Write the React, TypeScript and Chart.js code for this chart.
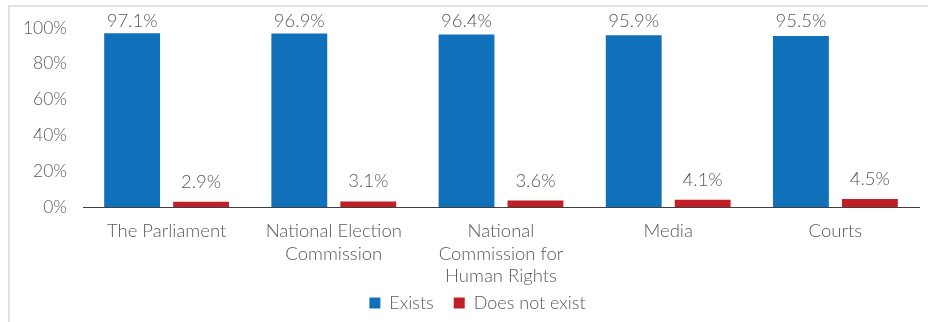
import React, { useEffect, useRef } from "react";
import { Chart, registerables } from "chart.js";

Chart.register(...registerables);

const categories: (string | string[])[] = [
  "The Parliament",
  ["National Election", "Commission"],
  ["National", "Commission for", "Human Rights"],
  "Media",
  "Courts",
];
const existsValues = [97.1, 96.9, 96.4, 95.9, 95.5];
const notExistValues = [2.9, 3.1, 3.6, 4.1, 4.5];
const seriesNames = ["Exists", "Does not exist"];
const yTicks = [0, 20, 40, 60, 80, 100];

const TEXT = "#595959";
const FONT = "Lato";

const labelPlugin = {
  id: "valueLabels",
  afterDatasetsDraw(chart: any) {
    const ctx = chart.ctx;
    ctx.save();
    ctx.font = `300 18.5px ${FONT}`;
    ctx.fillStyle = TEXT;
    ctx.textAlign = "center";
    ctx.textBaseline = "middle";
    chart.data.datasets.forEach((ds: any, i: number) => {
      const meta = chart.getDatasetMeta(i);
      meta.data.forEach((bar: any, j: number) => {
        const v = ds.data[j];
        const y = Math.max(bar.y - 20, 21);
        ctx.fillText(v.toFixed(1) + "%", bar.x, y);
      });
    });
    ctx.restore();
  },
};

const legendAdjust = {
  id: "legendAdjust",
  beforeLayout(chart: any) {
    const lg = chart.legend;
    if (lg && !lg.__patched) {
      const orig = lg.fit;
      lg.fit = function (this: any) {
        orig.call(this);
        this.height = 35;
      };
      lg.__patched = true;
    }
  },
  afterLayout(chart: any) {
    const lg = chart.legend;
    if (lg) {
      lg.left += 18;
      lg.right += 18;
      lg.top -= 13;
      lg.bottom = chart.height;
    }
  },
};

export default function App() {
  const ref = useRef<HTMLCanvasElement>(null);
  useEffect(() => {
    document.body.style.margin = "0";
    document.body.style.overflow = "hidden";
    const chart = new Chart(ref.current!, {
      type: "bar",
      data: {
        labels: categories,
        datasets: [
          {
            label: seriesNames[0],
            data: existsValues,
            backgroundColor: "#1170BA",
            categoryPercentage: 0.825,
            barPercentage: 0.81,
          },
          {
            label: seriesNames[1],
            data: notExistValues,
            backgroundColor: "#C01F27",
            categoryPercentage: 0.825,
            barPercentage: 0.81,
          },
        ],
      },
      options: {
        animation: false,
        responsive: false,
        maintainAspectRatio: false,
        layout: { padding: { top: 28, left: 0, right: 9, bottom: 0 } },
        plugins: {
          tooltip: { enabled: false },
          legend: {
            position: "bottom",
            labels: {
              color: TEXT,
              font: { family: FONT, size: 18, weight: "300" as any },
              boxWidth: 11,
              boxHeight: 11,
              padding: 20,
            },
          },
        },
        scales: {
          x: {
            grid: { display: false, drawTicks: false },
            border: { display: true, color: "#404040", width: 1 },
            ticks: {
              color: TEXT,
              font: { family: FONT, size: 18.5, weight: "300" as any, lineHeight: 1.22 },
              padding: 13,
              maxRotation: 0,
              autoSkip: false,
            },
            afterFit: (s: any) => {
              s.height = 80;
            },
          },
          y: {
            min: 0,
            max: 100,
            afterBuildTicks: (s: any) => {
              s.ticks = yTicks.map((v) => ({ value: v }));
            },
            grid: { display: false, drawTicks: false },
            border: { display: false },
            ticks: {
              color: TEXT,
              font: { family: FONT, size: 17.5, weight: "300" as any },
              padding: 16,
              callback: (v: any) => v + "%",
            },
            afterFit: (s: any) => {
              s.width = 83;
            },
          },
        },
      },
      plugins: [labelPlugin, legendAdjust],
    });
    return () => chart.destroy();
  }, []);
  return (
    <div style={{ position: "relative", width: 928, height: 322, background: "#fff", overflow: "hidden" }}>
      <div
        style={{
          position: "absolute",
          left: 8,
          top: 5,
          width: 940,
          height: 340,
          border: "2px solid #e2e2e2",
          boxSizing: "border-box",
        }}
      />
      <canvas ref={ref} width={928} height={322} style={{ position: "absolute", left: 0, top: 0 }} />
    </div>
  );
}
